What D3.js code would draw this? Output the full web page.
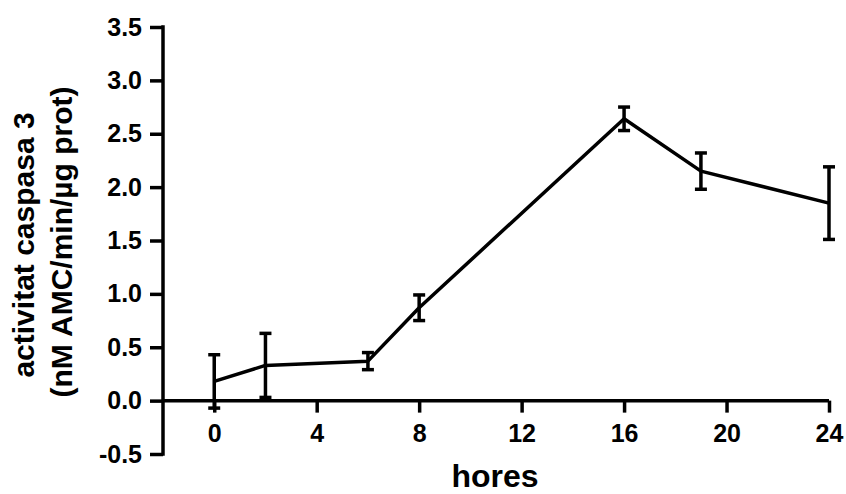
<!DOCTYPE html>
<html>
<head>
<meta charset="utf-8">
<script src="https://cdn.jsdelivr.net/npm/d3@7"></script>
<style>
  html, body { margin: 0; padding: 0; background: #fff; }
  svg { display: block; }
  text { font-family: "Liberation Sans", Arial, Helvetica, sans-serif; font-weight: bold; fill: #000; }
</style>
</head>
<body>
<svg id="chart" width="846" height="494"></svg>
<script>
// Data
const hours = [0, 2, 6, 8, 16, 19, 24];
const activity = [0.18, 0.33, 0.37, 0.87, 2.64, 2.15, 1.85];
const errors = [0.25, 0.30, 0.08, 0.12, 0.11, 0.17, 0.34];
const xTicks = [0, 4, 8, 12, 16, 20, 24];
const yTicks = [-0.5, 0.0, 0.5, 1.0, 1.5, 2.0, 2.5, 3.0, 3.5];
const xTitle = "hores";
const yTitle1 = "activitat caspasa 3";
const yTitle2 = "(nM AMC/min/\u00b5g prot)";

const svg = d3.select("#chart");
const x = d3.scaleLinear().domain([-2, 24]).range([163, 829]);
const y = d3.scaleLinear().domain([-0.5, 3.5]).range([454, 27]);
const sw = 3.5;
const fmtY = d3.formatLocale({ decimal: ".", thousands: ",", grouping: [3], currency: ["", ""], minus: "-" }).format(".1f");

// Y axis
const yAxis = d3.axisLeft(y).tickValues(yTicks).tickFormat(fmtY)
  .tickSize(13).tickSizeOuter(0).tickPadding(8);
const gy = svg.append("g").attr("transform", `translate(${x(-2)},0)`).call(yAxis);
gy.select(".domain").attr("stroke", "#000").attr("stroke-width", sw)
  .attr("d", `M0,${y(-0.5)}V${y(3.5)}`).attr("stroke-linecap", "square");
gy.selectAll(".tick line").attr("stroke", "#000").attr("stroke-width", sw);
gy.selectAll(".tick text").attr("font-size", 25).attr("font-weight", "bold")
  .attr("font-family", "Liberation Sans, Arial, sans-serif").attr("fill", "#000");

// X axis at y = 0
const xAxis = d3.axisBottom(x).tickValues(xTicks).tickFormat(d3.format("d"))
  .tickSize(12).tickSizeOuter(0);
const gx = svg.append("g").attr("transform", `translate(0,${y(0)})`).call(xAxis);
gx.select(".domain").attr("stroke", "#000").attr("stroke-width", sw)
  .attr("d", `M${x(-2)},0H${x(24)}`);
gx.selectAll(".tick line").attr("stroke", "#000").attr("stroke-width", sw);
gx.selectAll(".tick text").attr("font-size", 25).attr("font-weight", "bold")
  .attr("font-family", "Liberation Sans, Arial, sans-serif").attr("fill", "#000")
  .attr("dy", null).attr("y", 41);

// Data line
const pts = hours.map((h, i) => ({ h, v: activity[i], e: errors[i] }));
svg.append("path").datum(pts)
  .attr("fill", "none").attr("stroke", "#000").attr("stroke-width", sw)
  .attr("stroke-linejoin", "round")
  .attr("d", d3.line().x(d => x(d.h)).y(d => y(d.v)));

// Error bars
const eb = svg.append("g").attr("stroke", "#000").attr("stroke-width", sw);
const cap = 6;
pts.forEach(d => {
  const cx = x(d.h), top = y(d.v + d.e), bot = y(d.v - d.e);
  eb.append("line").attr("x1", cx).attr("x2", cx).attr("y1", top).attr("y2", bot);
  eb.append("line").attr("x1", cx - cap).attr("x2", cx + cap).attr("y1", top).attr("y2", top);
  eb.append("line").attr("x1", cx - cap).attr("x2", cx + cap).attr("y1", bot).attr("y2", bot);
});

// Titles
svg.append("text").attr("x", 495).attr("y", 487).attr("text-anchor", "middle")
  .attr("font-size", 32).text(xTitle);
svg.append("text").attr("transform", "rotate(-90)").attr("x", -245).attr("y", 34)
  .attr("text-anchor", "middle").attr("font-size", 30).text(yTitle1);
svg.append("text").attr("transform", "rotate(-90)").attr("x", -242).attr("y", 72)
  .attr("text-anchor", "middle").attr("font-size", 30).text(yTitle2);
</script>
</body>
</html>
